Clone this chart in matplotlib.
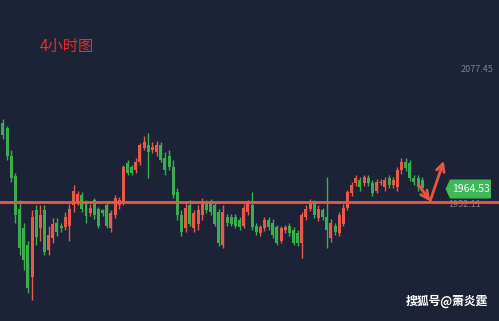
import numpy as np
import matplotlib.pyplot as plt
from matplotlib.patches import Polygon

plt.rcParams['font.family'] = ['Noto Sans CJK SC', 'DejaVu Sans']

# 4小时 K线 (open, high, low, close)
opens = [2027, 2022, 1996, 1977, 1946, 1928, 1912, 1882, 1945, 1928,
         1945, 1907, 1918, 1933, 1930, 1929, 1930, 1949, 1952, 1959,
         1951, 1942, 1954, 1946, 1945, 1949, 1928, 1940, 1949, 1952,
         1989, 1985, 1982, 1990, 2003, 2006, 2001, 1999, 2006, 1994,
         1996, 1985, 1962, 1940, 1928, 1949, 1928, 1932, 1940, 1951,
         1952, 1949, 1943, 1912, 1938, 1938, 1938, 1935, 1930, 1943,
         1949, 1930, 1923, 1928, 1935, 1933, 1929, 1916, 1926, 1930,
         1926, 1923, 1914, 1938, 1946, 1951, 1937, 1945, 1938, 1918,
         1930, 1923, 1932, 1947, 1961, 1970, 1973, 1970, 1975, 1970,
         1963, 1970, 1966, 1975, 1968, 1966, 1982, 1990, 1989, 1975,
         1975, 1973]
highs = [2030, 2024, 2001, 1980, 1954, 1933, 1916, 1945, 1949, 1949,
         1949, 1930, 1937, 1937, 1933, 1943, 1950, 1968, 1963, 1962,
         1954, 1950, 1956, 1948, 1946, 1952, 1945, 1959, 1957, 1987,
         1992, 1987, 1994, 2008, 2014, 2017, 2009, 2010, 2009, 1999,
         2001, 1992, 1965, 1945, 1952, 1954, 1945, 1949, 1956, 1954,
         1955, 1952, 1946, 1949, 1941, 1941, 1941, 1938, 1950, 1954,
         1962, 1933, 1931, 1938, 1938, 1936, 1931, 1930, 1931, 1933,
         1929, 1926, 1943, 1949, 1955, 1954, 1949, 1947, 1976, 1936,
         1933, 1943, 1950, 1964, 1971, 1978, 1976, 1978, 1978, 1973,
         1974, 1974, 1976, 1978, 1976, 1985, 1994, 1994, 1992, 1978,
         1978, 1976]
lows = [2012, 1992, 1971, 1933, 1902, 1888, 1867, 1860, 1912, 1916,
        1902, 1902, 1914, 1920, 1924, 1926, 1916, 1943, 1949, 1943,
        1933, 1939, 1936, 1928, 1939, 1928, 1924, 1937, 1946, 1949,
        1978, 1978, 1980, 1987, 2001, 1975, 1998, 1996, 1990, 1978,
        1982, 1956, 1935, 1920, 1924, 1930, 1924, 1926, 1935, 1942,
        1940, 1930, 1911, 1909, 1930, 1930, 1928, 1926, 1928, 1940,
        1926, 1921, 1920, 1925, 1926, 1918, 1912, 1914, 1923, 1920,
        1912, 1911, 1900, 1935, 1944, 1937, 1934, 1935, 1909, 1915,
        1921, 1920, 1930, 1945, 1958, 1967, 1963, 1967, 1967, 1958,
        1961, 1968, 1963, 1965, 1965, 1963, 1979, 1981, 1972, 1968,
        1963, 1962]
closes = [2015, 1996, 1975, 1940, 1909, 1898, 1871, 1938, 1919, 1940,
          1905, 1921, 1932, 1924, 1928, 1938, 1946, 1963, 1960, 1946,
          1939, 1947, 1940, 1930, 1942, 1930, 1942, 1956, 1954, 1985,
          1980, 1980, 1990, 2006, 2009, 1999, 2004, 2006, 1992, 1982,
          1985, 1959, 1940, 1924, 1947, 1932, 1942, 1945, 1952, 1945,
          1943, 1932, 1914, 1943, 1933, 1932, 1930, 1929, 1947, 1951,
          1929, 1924, 1929, 1935, 1929, 1921, 1914, 1928, 1929, 1923,
          1914, 1914, 1940, 1946, 1952, 1940, 1946, 1938, 1926, 1933,
          1924, 1940, 1947, 1962, 1968, 1975, 1966, 1976, 1970, 1961,
          1971, 1971, 1973, 1968, 1973, 1982, 1990, 1984, 1975, 1971,
          1966, 1965]

top_price = 2077.45
last_price = 1964.53
support = 1952.11

bg = '#1d2336'
up_c = '#e8594a'
down_c = '#3aae4c'

fig = plt.figure(figsize=(4.99, 3.21), dpi=100)
fig.patch.set_facecolor(bg)
ax = fig.add_axes([0, 0, 1, 1])
ax.set_facecolor(bg)
ax.set_xlim(-0.72, 119.5)
ax.set_ylim(1840.3, 2142.4)
ax.axis('off')

for i in range(len(opens)):
    o, h, l, c = opens[i], highs[i], lows[i], closes[i]
    col = up_c if c >= o else down_c
    ax.vlines(i, l, h, color=col, lw=1.0, zorder=2)
    bottom = min(o, c)
    height = max(abs(c - o), 1.2)
    ax.bar(i, height, bottom=bottom, width=0.72, color=col, lw=0, zorder=3)

# 支撑线
ax.axhline(support, color='#e85a44', lw=2.0, zorder=4)
ax.text(111.3, support - 2.0, '%.2f' % support, color='#7c8190', fontsize=6.5,
        ha='center', va='center', zorder=3)
ax.text(118.2, top_price, '%.2f' % top_price, color='#7c8190', fontsize=6.5,
        ha='right', va='center')

# 最新价标签
x0, x1 = 106.8, 117.4
poly = Polygon([(x0, last_price), (x0 + 1.0, last_price + 8.3), (x1, last_price + 8.3),
                (x1, last_price - 8.3), (x0 + 1.0, last_price - 8.3)],
               closed=True, color='#3dba57', zorder=5)
ax.add_patch(poly)
ax.text((x0 + x1) / 2 + 0.6, last_price, '%.2f' % last_price, color='white',
        fontsize=7.5, ha='center', va='center', zorder=6)

# 箭头
arr = dict(arrowstyle='->', color='#e8563f', lw=2.0, mutation_scale=14,
           shrinkA=0, shrinkB=0)
ax.annotate('', xy=(102.9, 1953), xytext=(100.2, 1968), arrowprops=arr, zorder=6)
ax.annotate('', xy=(106.2, 1991), xytext=(102.9, 1953), arrowprops=arr, zorder=6)

fig.text(0.08, 0.855, '4小时图', color='#e0302c', fontsize=11, ha='left', va='center')
fig.text(0.977, 0.06, '搜狐号@萧炎霆', color='white', fontsize=8.5, fontweight='bold',
         ha='right', va='center')

fig.savefig('out.png', dpi=100, facecolor=bg)
